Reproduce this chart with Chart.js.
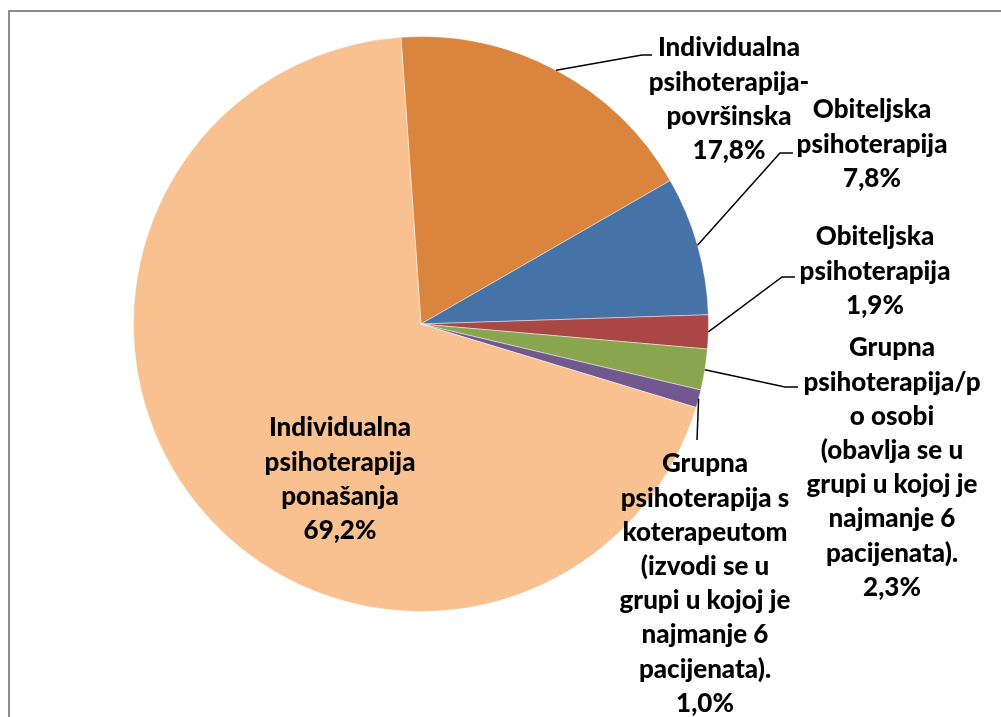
<!DOCTYPE html>
<html>
<head>
    <title>Psihoterapija</title>
    <script src="https://cdn.jsdelivr.net/npm/chart.js"></script>
    <style>
        body { margin: 0; background: #fff; }
        #wrap { width: 1001px; height: 717px; }
    </style>
</head>
<body>
    <div id="wrap"><canvas id="pieChart" width="1001" height="717"></canvas></div>
    <script>
        const categories = [
            ['Individualna', 'psihoterapija-', 'površinska'],
            ['Obiteljska', 'psihoterapija'],
            ['Obiteljska', 'psihoterapija'],
            ['Grupna', 'psihoterapija/p', 'o osobi', '(obavlja se u', 'grupi u kojoj je', 'najmanje 6', 'pacijenata).'],
            ['Grupna', 'psihoterapija s', 'koterapeutom', '(izvodi se u', 'grupi u kojoj je', 'najmanje 6', 'pacijenata).'],
            ['Individualna', 'psihoterapija', 'ponašanja']
        ];
        const shares = [17.8, 7.8, 1.9, 2.3, 1.0, 69.2];
        const colors = ['#DB843D', '#4572A7', '#AA4643', '#89A54E', '#71588F', '#F9C090'];

        // label block centre x, first line y, and leader elbow (null = label sits inside slice)
        const labelPos = [
            { x: 729, y: 48, elbow: [642, 55], end: 652 },
            { x: 872, y: 110, elbow: [780, 153], end: 793 },
            { x: 875, y: 237, elbow: [782, 277], end: 795 },
            { x: 892, y: 348, elbow: [785, 387], end: 798 },
            { x: 705, y: 464, elbow: [697, 440], end: 697 },
            { x: 340, y: 428, elbow: null }
        ];
        const lineH = 34.2;
        const fmt = v => v.toFixed(1).replace('.', ',') + '%';

        const frame = {
            id: 'frame',
            beforeDraw(chart) {
                const ctx = chart.ctx;
                ctx.save();
                ctx.strokeStyle = '#8c8c8c';
                ctx.lineWidth = 2;
                ctx.strokeRect(9, 11, 1100, 800);
                ctx.restore();
            }
        };

        const pieLabels = {
            id: 'pieLabels',
            afterDatasetsDraw(chart) {
                const ctx = chart.ctx;
                const arcs = chart.getDatasetMeta(0).data;
                ctx.save();
                ctx.font = '900 26px Lato, "Liberation Sans", sans-serif';
                ctx.fillStyle = '#000';
                ctx.textAlign = 'center';
                ctx.textBaseline = 'middle';
                arcs.forEach((arc, i) => {
                    const p = labelPos[i];
                    if (p.elbow) {
                        const mid = (arc.startAngle + arc.endAngle) / 2;
                        const sx = arc.x + Math.cos(mid) * arc.outerRadius;
                        const sy = arc.y + Math.sin(mid) * arc.outerRadius;
                        ctx.beginPath();
                        ctx.strokeStyle = '#000';
                        ctx.lineWidth = 1.5;
                        ctx.moveTo(sx, sy);
                        ctx.lineTo(p.elbow[0], p.elbow[1]);
                        ctx.lineTo(p.end, p.elbow[1]);
                        ctx.stroke();
                    }
                    const lines = categories[i].concat([fmt(shares[i])]);
                    lines.forEach((t, k) => ctx.fillText(t, p.x, p.y + k * lineH));
                });
                ctx.restore();
            }
        };

        new Chart(document.getElementById('pieChart'), {
            type: 'pie',
            data: {
                labels: categories.map(c => c.join(' ')),
                datasets: [{
                    data: shares,
                    backgroundColor: colors,
                    borderColor: 'rgba(255,255,255,0.45)',
                    borderWidth: 1
                }]
            },
            options: {
                responsive: false,
                animation: false,
                rotation: -4,
                layout: { padding: { left: 133, top: 36, right: 292, bottom: 105 } },
                plugins: {
                    legend: { display: false },
                    tooltip: { enabled: false }
                }
            },
            plugins: [frame, pieLabels]
        });
    </script>
</body>
</html>
